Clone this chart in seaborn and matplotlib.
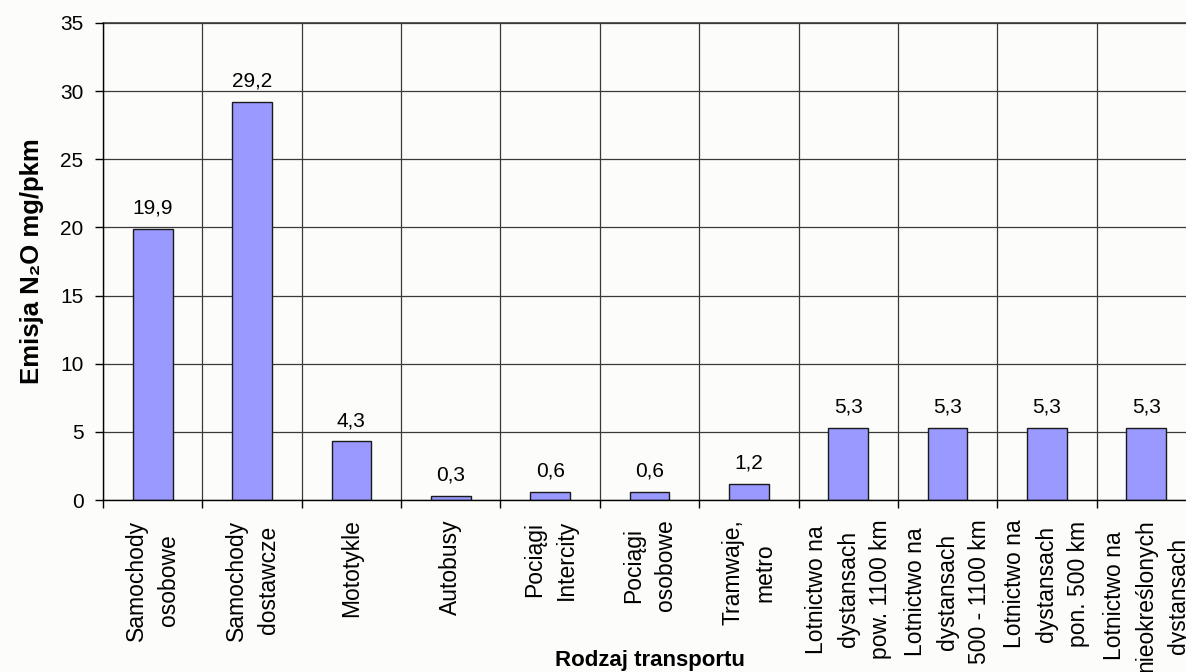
import matplotlib
matplotlib.use("Agg")
import matplotlib.pyplot as plt
import seaborn as sns
import numpy as np
import pandas as pd
from matplotlib.ticker import FixedLocator

# Emisja N2O wg rodzaju transportu [mg/pkm]
kategorie = [
    "Samochody\nosobowe",
    "Samochody\ndostawcze",
    "Mototykle",
    "Autobusy",
    "Pociągi\nIntercity",
    "Pociągi\nosobowe",
    "Tramwaje,\nmetro",
    "Lotnictwo na\ndystansach\npow. 1100 km",
    "Lotnictwo na\ndystansach\n500 - 1100 km",
    "Lotnictwo na\ndystansach\npon. 500 km",
    "Lotnictwo na\nnieokreślonych\ndystansach",
]
emisja = [19.9, 29.2, 4.3, 0.3, 0.6, 0.6, 1.2, 5.3, 5.3, 5.3, 5.3]
y_ticks = [0, 5, 10, 15, 20, 25, 30, 35]

sns.set_theme(style="white")
plt.rcParams["font.family"] = ["Liberation Sans", "DejaVu Sans"]

BG = "#FCFDFB"
TXT = "#000000"
fig = plt.figure(figsize=(11.86, 6.72), dpi=100, facecolor=BG)
ax = fig.add_axes([103 / 1186, 1 - 500 / 672, 1093 / 1186, 477 / 672])
ax.set_facecolor(BG)

df = pd.DataFrame({"kat": kategorie, "val": emisja})
sns.barplot(data=df, x="kat", y="val", color="#9999FF", saturation=1,
            edgecolor="#1a1a1a", linewidth=1.0, width=0.4, ax=ax)

ax.set_xlim(-0.5, len(kategorie) - 0.5)
ax.set_ylim(0, 35)
ax.yaxis.set_major_locator(FixedLocator(y_ticks))

# Linie siatki: poziome co 5, pionowe na granicach kategorii
grid_c = "#3a3a3a"
ax.set_axisbelow(True)
ax.yaxis.grid(True, color=grid_c, linewidth=0.9)
ax.xaxis.set_minor_locator(FixedLocator(np.arange(-0.5, len(kategorie), 1.0)))
ax.xaxis.grid(True, which="minor", color=grid_c, linewidth=0.9)
ax.xaxis.grid(False, which="major")

for side in ["top", "right"]:
    ax.spines[side].set_visible(False)
for side in ["left", "bottom"]:
    ax.spines[side].set_color("black")
    ax.spines[side].set_linewidth(1.0)
ax.axhline(35, color=grid_c, linewidth=1.2, clip_on=False, zorder=0)

ax.tick_params(axis="y", which="major", direction="out", length=6, width=1.0,
               color="black", pad=8, labelsize=15, labelcolor=TXT, left=True)
ax.tick_params(axis="x", which="major", length=0, pad=14, labelcolor=TXT)
ax.tick_params(axis="x", which="minor", direction="out", length=6, width=1.0,
               color="black", bottom=True)

ax.set_xticks(range(len(kategorie)))
ax.set_xticklabels(kategorie, rotation=90, ha="center", va="top",
                   fontsize=16.5, linespacing=1.5, multialignment="center")

for c in ax.containers:
    ax.bar_label(c, labels=[f"{v:.1f}".replace(".", ",") for v in emisja],
                 padding=8, fontsize=15, color=TXT)

ax.set_xlabel("Rodzaj transportu", fontsize=16, fontweight="bold", color=TXT)
ax.xaxis.set_label_coords(0.5, -(650 - 500) / 477)
ax.set_ylabel("Emisja N₂O mg/pkm", fontsize=18.5, fontweight="bold",
              labelpad=12, color=TXT)

fig.savefig("out.png", dpi=100, facecolor=BG)
